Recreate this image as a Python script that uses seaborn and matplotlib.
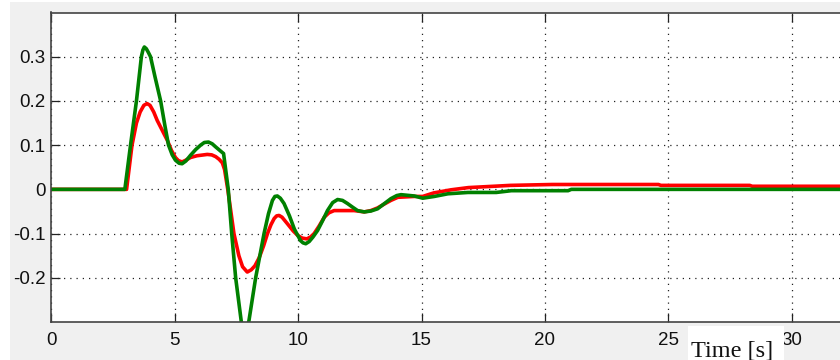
import matplotlib
matplotlib.use("Agg")
import matplotlib.pyplot as plt
from matplotlib.patches import Rectangle
import numpy as np
import pandas as pd
import seaborn as sns

# Response samples (time in seconds, value)
t_red = [0.0, 3.05, 3.27, 3.45, 3.6, 3.75, 3.88, 4.0, 4.15, 4.29, 4.5, 4.7,
         4.87, 5.03, 5.15, 5.3, 5.45, 5.64, 5.9, 6.32, 6.5, 6.66, 6.8, 6.93,
         7.02, 7.15, 7.4, 7.6, 7.75, 7.94, 8.1, 8.25, 8.42, 8.6, 8.76, 8.9,
         9.03, 9.13, 9.23, 9.35, 9.57, 9.8, 9.98, 10.15, 10.35, 10.5, 10.65,
         10.85, 11.06, 11.25, 11.46, 12.27, 12.68, 12.95, 13.22, 13.5, 13.76,
         14.04, 14.7, 15.05, 15.5, 16.2, 16.9, 18.1, 18.6, 20.3, 24.6, 24.7,
         28.3, 28.4, 35.0]
y_red = [0.0, 0.0, 0.1, 0.15, 0.175, 0.19, 0.194, 0.19, 0.175, 0.156, 0.133, 0.111,
         0.088, 0.072, 0.065, 0.062, 0.066, 0.072, 0.076, 0.079, 0.078, 0.074, 0.068, 0.06,
         0.045, 0.0, -0.1, -0.15, -0.175, -0.187, -0.182, -0.173, -0.155, -0.128, -0.1, -0.08,
         -0.066, -0.06, -0.059, -0.063, -0.078, -0.094, -0.104, -0.11, -0.112, -0.108, -0.1,
         -0.083, -0.063, -0.053, -0.048, -0.048, -0.051, -0.048, -0.042, -0.033, -0.025,
         -0.018, -0.016, -0.016, -0.008, -0.001, 0.004, 0.0075, 0.009, 0.011, 0.011, 0.009,
         0.009, 0.007, 0.007]

t_green = [0.0, 2.98, 3.21, 3.45, 3.65, 3.71, 3.77, 3.85, 3.93, 4.02, 4.2, 4.43,
           4.6, 4.75, 4.9, 5.03, 5.18, 5.3, 5.45, 5.64, 5.85, 6.05, 6.2, 6.37,
           6.52, 6.66, 6.85, 6.98, 7.17, 7.31, 7.47, 7.7, 7.85, 8.0, 8.28, 8.62,
           8.8, 8.96, 9.06, 9.16, 9.28, 9.43, 9.65, 9.85, 10.1, 10.2, 10.31, 10.45,
           10.6, 10.79, 11.0, 11.19, 11.4, 11.6, 11.8, 12.0, 12.2, 12.41, 12.68,
           12.95, 13.22, 13.5, 13.76, 14.0, 14.17, 14.71, 15.05, 15.52, 16.07,
           16.88, 18.03, 18.64, 20.94, 21.07, 35.0]
y_green = [0.0, 0.0, 0.1, 0.2, 0.3, 0.315, 0.322, 0.318, 0.31, 0.3, 0.255, 0.2,
           0.145, 0.1, 0.078, 0.066, 0.059, 0.058, 0.064, 0.077, 0.09, 0.1, 0.106, 0.107,
           0.103, 0.096, 0.087, 0.081, 0.0, -0.1, -0.2, -0.3, -0.315, -0.3, -0.2, -0.1,
           -0.055, -0.025, -0.016, -0.015, -0.02, -0.032, -0.06, -0.09, -0.116, -0.121, -0.123, -0.118,
           -0.108, -0.093, -0.07, -0.048, -0.03, -0.023, -0.025, -0.032, -0.04, -0.048, -0.051,
           -0.049, -0.044, -0.032, -0.021, -0.014, -0.012, -0.015, -0.020, -0.016, -0.010,
           -0.007, -0.007, -0.003, -0.003, 0.0, 0.0]

x_ticks = [0, 5, 10, 15, 20, 25, 30]
y_ticks = [-0.2, -0.1, 0.0, 0.1, 0.2, 0.3]
y_tick_labels = ["-0.2", "-0.1", "0", "0.1", "0.2", "0.3"]
x_label = "Time [s]"

sns.set_style("white")
plt.rcParams["font.family"] = ["Liberation Sans", "DejaVu Sans"]

W, H = 840, 360
fig = plt.figure(figsize=(W / 100, H / 100), dpi=100, facecolor="white")

# grey window background (thin white border at left/top)
fig.patches.append(Rectangle((10 / W, 0), (W - 10) / W, (H - 2) / H,
                             transform=fig.transFigure, facecolor="#f0f0f0",
                             edgecolor="none", zorder=-10))

px_per_unit = 24.68
ax = fig.add_axes([51.3 / W, (H - 322) / H, 35 * px_per_unit / W, (322 - 12.5) / H])
ax.set_facecolor("white")

df_r = pd.DataFrame({"t": t_red, "v": y_red})
df_g = pd.DataFrame({"t": t_green, "v": y_green})
sns.lineplot(data=df_r, x="t", y="v", ax=ax, color="#ff0000", linewidth=2.6,
             estimator=None, sort=False)
sns.lineplot(data=df_g, x="t", y="v", ax=ax, color="#008000", linewidth=2.6,
             estimator=None, sort=False)

ax.set_xlim(0, 35)
ax.set_ylim(-0.3, 0.4)
ax.set_xticks(x_ticks)
ax.set_xticklabels([str(v) for v in x_ticks])
ax.set_yticks(y_ticks)
ax.set_yticklabels(y_tick_labels)
ax.set_xlabel("")
ax.set_ylabel("")

ax.grid(True, color="#222222", linestyle=(0, (1, 4)), linewidth=0.9)
ax.set_axisbelow(True)
for s in ax.spines.values():
    s.set_color("#444444")
    s.set_linewidth(1.2)
    s.set_visible(True)

ax.tick_params(axis="x", direction="in", length=6.5, width=0.9, color="#222222",
               top=True, bottom=True, pad=7, labelsize=13.5, labelcolor="#111111")
ax.tick_params(axis="y", direction="in", length=6.5, width=0.9, color="#222222",
               left=True, right=True, pad=4, labelsize=13.5, labelcolor="#111111")

# axis label on a white box at the lower right
fig.patches.append(Rectangle((688 / W, 0), 96 / W, (H - 326) / H,
                             transform=fig.transFigure, facecolor="white",
                             edgecolor="none", zorder=5))
fig.text(691 / W, 4 / H, x_label, family=["Liberation Serif", "DejaVu Serif"],
         fontsize=17.5, color="#111111", ha="left", va="baseline", zorder=6)

fig.savefig("out.png", dpi=100, facecolor=fig.get_facecolor())
